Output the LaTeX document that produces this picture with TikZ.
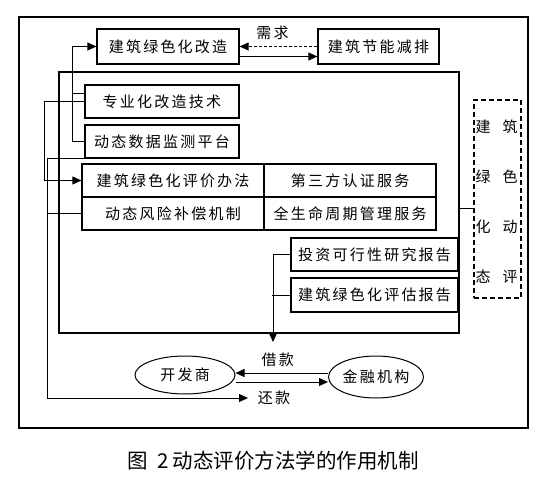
\documentclass[tikz,border=0pt]{standalone}
\usepackage{fontspec}
\setmainfont{Noto Sans CJK SC}[LetterSpace=15]
\newfontfamily\capfont{Noto Sans CJK SC}
\usetikzlibrary{arrows.meta,shapes.geometric}
\begin{document}
\begin{tikzpicture}[x=1pt,y=-1pt,
  txt/.style={font=\fontsize{15}{15}\selectfont},
  box/.style={txt,draw,line width=1.2pt,inner sep=0pt},
  oval/.style={txt,draw,ellipse,line width=1pt,inner sep=0pt},
  conn/.style={line width=0.8pt},
  tip/.style={-{Triangle[length=9pt,width=8pt]}},
  lbl/.style={txt,inner sep=0pt}]
\useasboundingbox (0,0) rectangle (550,482);
% outer frame
\draw[line width=1.3pt] (19,17) rectangle (528,428);
% inner frame
\node[draw,line width=2pt,minimum width=400pt,minimum height=261pt,inner sep=0pt] (inner) at (259,202.5) {};
% top boxes
\node[box,minimum width=142pt,minimum height=35pt] (gz) at (168,46.5) {建筑绿色化改造};
\node[box,minimum width=121pt,minimum height=35pt] (jp) at (378.5,46.5) {建筑节能减排};
% inner boxes
\node[box,minimum width=154pt,minimum height=33pt] (zy) at (162,101.5) {专业化改造技术};
\node[box,minimum width=154pt,minimum height=33pt] (dt) at (162,141.5) {动态数据监测平台};
\node[box,minimum width=182pt,minimum height=33pt] (pj) at (173,180.5) {建筑绿色化评价办法};
\node[box,minimum width=182pt,minimum height=33pt] (fx) at (173,213.5) {动态风险补偿机制};
\node[box,minimum width=172pt,minimum height=33pt] (dsf) at (350,180.5) {第三方认证服务};
\node[box,minimum width=172pt,minimum height=33pt] (qsm) at (350,213.5) {全生命周期管理服务};
\node[box,minimum width=167pt,minimum height=33pt] (tz) at (374.5,254.5) {投资可行性研究报告};
\node[box,minimum width=167pt,minimum height=34pt] (pg) at (374.5,295) {建筑绿色化评估报告};
% dashed box
\node[draw,dash pattern=on 5pt off 3pt,line width=1.5pt,minimum width=47pt,minimum height=198pt,inner sep=0pt] (db) at (497.5,199) {};
\node[lbl] (d1) at (483,127) {建};
\node[lbl] (d2) at (510,127) {筑};
\node[lbl] (d3) at (483,177) {绿};
\node[lbl] (d4) at (510,177) {色};
\node[lbl] (d5) at (483,227) {化};
\node[lbl] (d6) at (510,227) {动};
\node[lbl] (d7) at (483,277) {态};
\node[lbl] (d8) at (510,277) {评};
% ellipses
\node[oval,minimum width=100pt,minimum height=38pt] (kfs) at (185,375) {开发商};
\node[oval,minimum width=95pt,minimum height=42pt] (jr) at (376,377) {金融机构};
% coordinates
\coordinate (hk) at (248,398);
\coordinate (dn) at (273,342);
% top connectors
\draw[conn,dash pattern=on 3pt off 2pt,tip] (jp.west) -- node[lbl,above=6pt,xshift=-6pt] {需求} (gz.east);
\draw[conn,tip] ([yshift=-10pt]gz.east) -- ([yshift=-10pt]jp.west);
% left connectors
\draw[conn,tip] (dt.west) -- ++(-12,0) |- (gz.west);
\draw[conn] ([yshift=8.5pt]zy.west) -- ++(-12,0);
\draw[conn,tip] (zy.west) -- ++(-40,0) |- (pj.west);
\draw[conn,tip] (dt.south west) -- ++(-37,0) |- (hk);
\draw[conn] (fx.west) -- ++(-34,0);
% right connectors
\draw[conn,tip] (tz.west) -| (dn);
\draw[conn] (pg.west) -- ++(-18,0);
\draw[conn] ([yshift=-5.5pt]inner.east) -- ([yshift=-5.5pt]inner.east -| db.west);
% loan arrows
\draw[conn,tip] ([yshift=4pt]jr.west) -- node[lbl,above=6pt,xshift=-4pt] {借款} ([yshift=2pt]kfs.east);
\draw[conn,tip] ([yshift=-7pt]kfs.east) -- ([yshift=-5pt]jr.west);
\node[lbl] (hkl) at (274,398) {还款};
% caption
\node[font=\capfont\fontsize{20.5}{20.5}\selectfont,inner sep=0pt] (cap) at (273,461) {图\hspace{10pt}2\hspace{4pt}动态评价方法学的作用机制};
\end{tikzpicture}
\end{document}
